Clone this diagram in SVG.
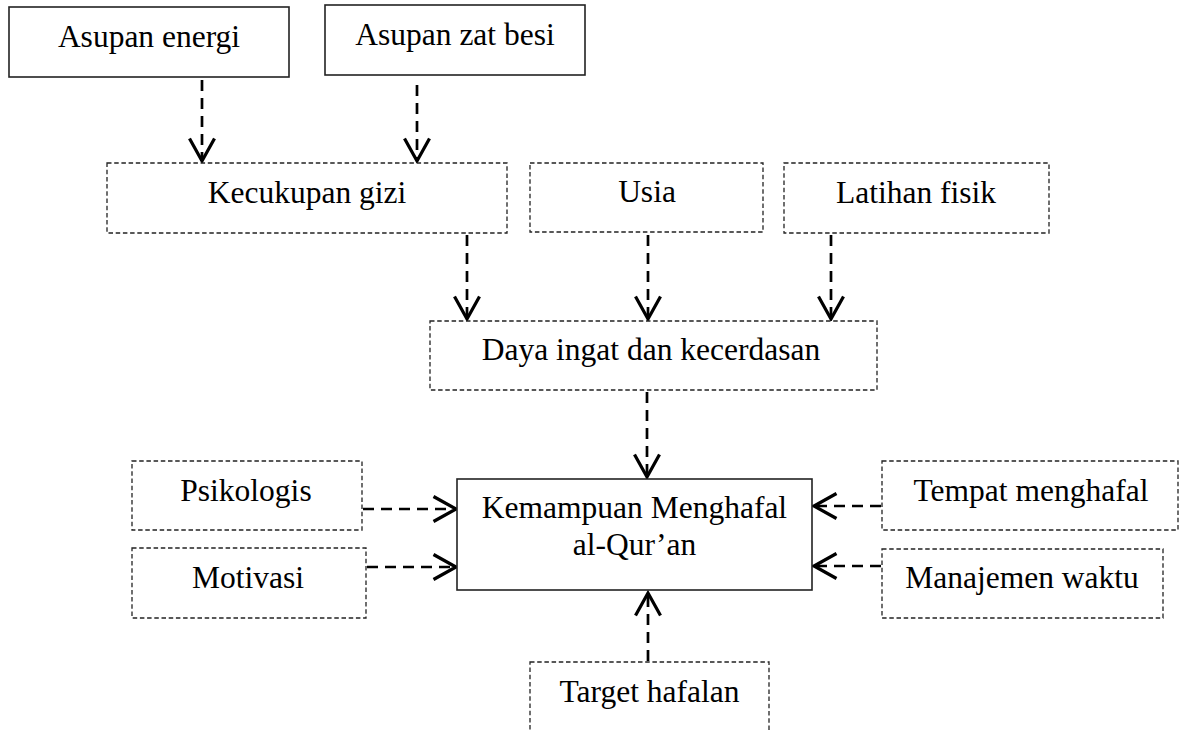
<svg xmlns="http://www.w3.org/2000/svg" width="1182" height="731" viewBox="0 0 1182 731">
<style>
.solid{fill:#fff;stroke:#222;stroke-width:1.6}
.dash{fill:#fff;stroke:#222;stroke-width:1.3;stroke-dasharray:4.5,2.7}
.lbl{font-family:"Liberation Serif","Times New Roman",serif;font-size:31.5px;fill:#000;text-anchor:middle}
.conn{fill:none;stroke:#000;stroke-width:2.7;stroke-dasharray:11,7}
</style>
<defs>
<marker id="ah" markerUnits="userSpaceOnUse" markerWidth="30" markerHeight="30" viewBox="-20 -12 22 24" refX="0" refY="0" orient="auto" overflow="visible">
<path d="M-18,-10 L0,0 L-18,10" fill="none" stroke="#000" stroke-width="2.6" stroke-dasharray="none" stroke-linejoin="miter"/>
</marker>
</defs>
<rect width="1182" height="731" fill="#fff"/>
<g id="connectors">
<line class="conn" x1="202" y1="80" x2="202" y2="161" marker-end="url(#ah)"/>
<line class="conn" x1="417" y1="85" x2="417" y2="161" marker-end="url(#ah)"/>
<line class="conn" x1="467" y1="235" x2="467" y2="319" marker-end="url(#ah)"/>
<line class="conn" x1="648" y1="235" x2="648" y2="319" marker-end="url(#ah)"/>
<line class="conn" x1="831" y1="235" x2="831" y2="319" marker-end="url(#ah)"/>
<line class="conn" x1="647" y1="392" x2="647" y2="477" marker-end="url(#ah)"/>
<line class="conn" x1="363" y1="509" x2="456" y2="509" marker-end="url(#ah)"/>
<line class="conn" x1="367" y1="567" x2="456" y2="567" marker-end="url(#ah)"/>
<line class="conn" x1="881" y1="506" x2="814" y2="506" marker-end="url(#ah)"/>
<line class="conn" x1="881" y1="566" x2="814" y2="566" marker-end="url(#ah)"/>
<line class="conn" x1="648" y1="661" x2="648" y2="593" marker-end="url(#ah)"/>
</g>
<g id="asupan-energi"><rect class="solid" x="9" y="7" width="280" height="70"/><text class="lbl" x="149" y="47">Asupan energi</text></g>
<g id="asupan-zat-besi"><rect class="solid" x="325" y="5" width="260" height="70"/><text class="lbl" x="455" y="45">Asupan zat besi</text></g>
<g id="kecukupan-gizi"><rect class="dash" x="107" y="163" width="400" height="70"/><text class="lbl" x="307" y="203">Kecukupan gizi</text></g>
<g id="usia"><rect class="dash" x="530" y="163" width="233" height="69"/><text class="lbl" x="647" y="202">Usia</text></g>
<g id="latihan-fisik"><rect class="dash" x="784" y="163" width="265" height="70"/><text class="lbl" x="916" y="203">Latihan fisik</text></g>
<g id="daya-ingat"><rect class="dash" x="430" y="321" width="447" height="69"/><text class="lbl" x="651" y="360">Daya ingat dan kecerdasan</text></g>
<g id="kemampuan"><rect class="solid" x="457" y="479" width="355" height="111"/><text class="lbl" x="634.5" y="518">Kemampuan Menghafal</text><text class="lbl" x="634.5" y="555">al-Qur’an</text></g>
<g id="psikologis"><rect class="dash" x="132" y="461" width="230" height="69"/><text class="lbl" x="246" y="501">Psikologis</text></g>
<g id="motivasi"><rect class="dash" x="132" y="548" width="234" height="70"/><text class="lbl" x="248" y="588">Motivasi</text></g>
<g id="tempat-menghafal"><rect class="dash" x="882" y="461" width="296" height="69"/><text class="lbl" x="1031" y="501">Tempat menghafal</text></g>
<g id="manajemen-waktu"><rect class="dash" x="882" y="549" width="281" height="69"/><text class="lbl" x="1022" y="588">Manajemen waktu</text></g>
<g id="target-hafalan"><rect class="dash" x="530" y="662" width="239" height="90"/><text class="lbl" x="649.5" y="702">Target hafalan</text></g>
</svg>
